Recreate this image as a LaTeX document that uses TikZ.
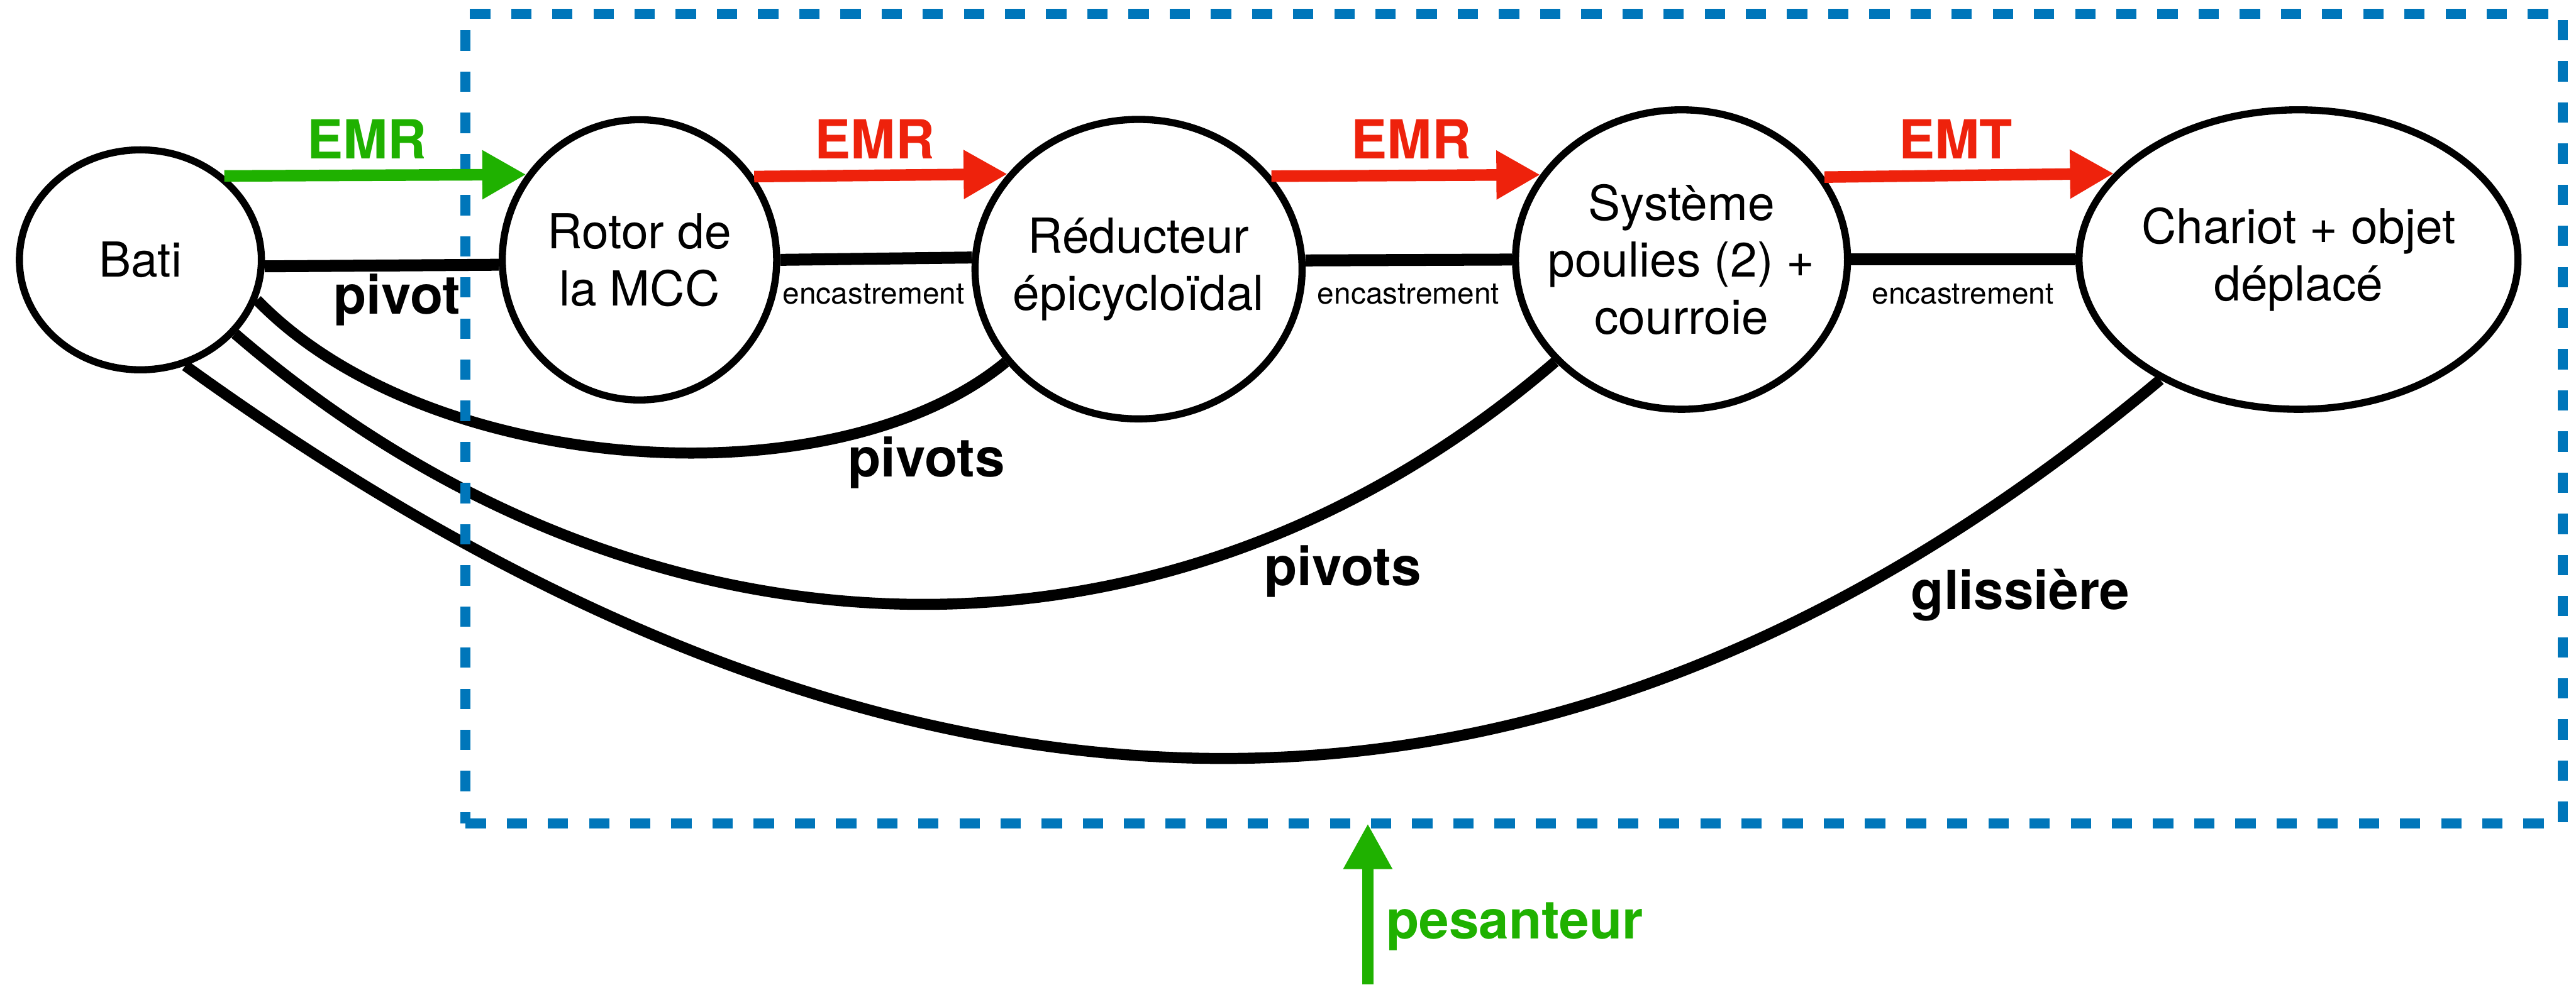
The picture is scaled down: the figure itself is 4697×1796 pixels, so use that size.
\documentclass[tikz,border=0pt]{standalone}
\usepackage{fontspec}
\setmainfont{TeX Gyre Heros}
\usetikzlibrary{shapes.geometric,arrows.meta}

\definecolor{vertEMR}{RGB}{31,177,0}
\definecolor{rougeEMR}{RGB}{238,34,12}
\definecolor{bleuSys}{RGB}{0,118,186}

\tikzset{
  piece/.style={ellipse, draw, line width=3.7pt, fill=white, inner sep=-2cm,
    align=center, font=\fontsize{25}{29.6}\selectfont},
  liaison/.style={line width=6.2pt},
  courbe/.style={line width=5.7pt},
  emr/.style={line width=6pt, -{Triangle[length=0.8cm,width=0.84cm]}},
  frontiere/.style={draw=bleuSys, line width=5.1pt, dash pattern=on 0.37cm off 0.38cm,
    inner sep=0pt, outer sep=0pt},
  lbl/.style={anchor=base, font=\fontsize{27.9}{32}\selectfont\bfseries},
  petit/.style={anchor=base, font=\fontsize{15.6}{18}\selectfont},
}

\begin{document}
\begin{tikzpicture}[x=0.01cm, y=-0.01cm]
  \useasboundingbox (0,0) rectangle (4697,1796);

  % les pieces du graphe
  \node[piece, minimum width=4.41cm, minimum height=4.01cm] (bati) at (256,474) {Bati};
  \node[piece, minimum width=5cm, minimum height=5.11cm] (rotor) at (1166,474) {Rotor de\\la MCC};
  \node[piece, minimum width=5.96cm, minimum height=5.46cm] (reduc) at (2076,491) {Réducteur\\épicycloïdal};
  \node[piece, minimum width=6.05cm, minimum height=5.46cm] (poulies) at (3066,473.5) {Système\\poulies (2) +\\courroie};
  \node[piece, minimum width=8cm, minimum height=5.46cm] (chariot) at (4191,473.5) {Chariot + objet\\déplacé};

  % liaisons
  \draw[liaison] (bati.-3) -- (rotor.182.7);
  \draw[liaison] (rotor.0) -- (reduc.176.8);
  \draw[liaison] (reduc.3.2) -- (poulies.180);
  \draw[liaison] (poulies.0) -- (chariot.180);
  \draw[courbe] (bati.-19.8) .. controls (780,870) and (1520,920) .. (reduc.215.3);
  \draw[courbe] (bati.-38.6) .. controls (1149,1231) and (2112,1284) .. (poulies.219.3);
  \draw[courbe] (bati.-67.4) .. controls (1635,1604) and (2820,1632) .. (chariot.221.1);

  \node[lbl] (tpivot) at (724,573) {pivot};
  \node[petit] (tenc1) at (1593,555) {encastrement};
  \node[petit] (tenc2) at (2568,555) {encastrement};
  \node[petit] (tenc3) at (3579,555) {encastrement};
  \node[lbl] (tpivots1) at (1689,870) {pivots};
  \node[lbl] (tpivots2) at (2448,1068) {pivots};
  \node[lbl] (tglis) at (3684,1112) {glissière};

  % frontiere de l'ensemble isole
  \node[frontiere, minimum width=38.22cm, minimum height=14.76cm] (isole) at (2761,764) {};

  % actions mecaniques exterieures et interieures
  \draw[emr, vertEMR] (bati.45.4) -- (rotor.143.4);
  \draw[emr, rougeEMR] (rotor.36.6) -- (reduc.144.6);
  \draw[emr, rougeEMR] (reduc.35.4) -- (poulies.149.3);
  \draw[emr, rougeEMR] (poulies.30.7) -- (chariot.155.7);
  \node[lbl, vertEMR] (temr0) at (669,290) {EMR};
  \node[lbl, rougeEMR] (temr1) at (1595,290) {EMR};
  \node[lbl, rougeEMR] (temr2) at (2573,290) {EMR};
  \node[lbl, rougeEMR] (temt) at (3566,290) {EMT};

  \coordinate (pes) at (2494,1796);
  \draw[line width=5.7pt, vertEMR, -{Triangle[length=0.83cm,width=0.84cm]}] (pes) -- (isole.south -| pes);
  \node[lbl, vertEMR] (tpes) at (2762,1713) {pesanteur};
\end{tikzpicture}
\end{document}
